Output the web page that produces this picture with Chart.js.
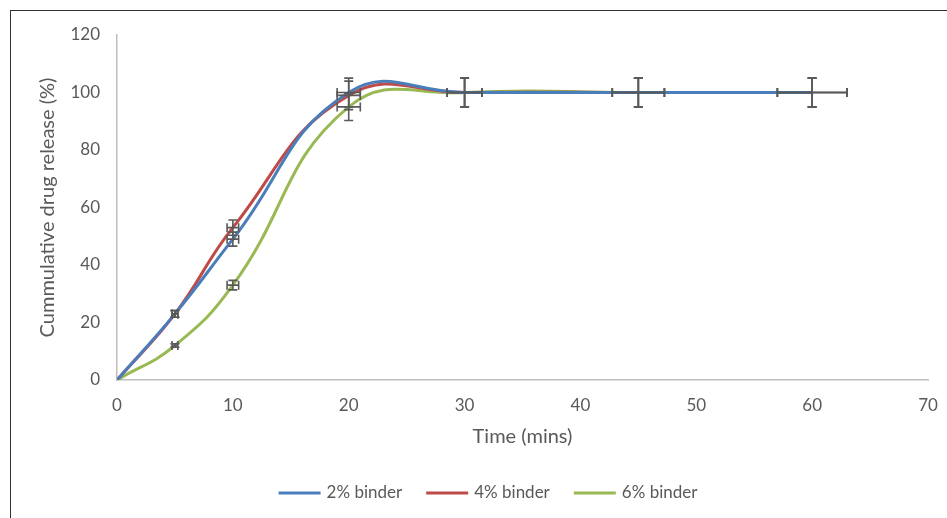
<!DOCTYPE html>
<html>
<head>
<meta charset="utf-8">
<script src="https://cdn.jsdelivr.net/npm/chart.js@4.4.1/dist/chart.umd.min.js"></script>
<style>
  html, body { margin: 0; padding: 0; background: #fff; }
  canvas { display: block; }
</style>
</head>
<body>
<canvas id="chart" width="947" height="518"></canvas>
<script>
// sampling times (mins)
var times = [0, 5, 10, 20, 30, 45, 60];

// cumulative drug release (%)
var binder2 = [0, 23, 49, 100, 100, 100, 100];
var binder4 = [0, 23, 53, 99, 100, 100, 100];
var binder6 = [0, 12, 33, 95, 100, 100, 100];

// error bars (5 % of value)
var timeErr = [0, 0.25, 0.5, 1, 1.5, 2.25, 3];
var err2 = [0, 1.15, 2.45, 5, 5, 5, 5];
var err4 = [0, 1.15, 2.65, 4.95, 5, 5, 5];
var err6 = [0, 0.6, 1.65, 4.75, 5, 5, 5];

var seriesNames = ['2% binder', '4% binder', '6% binder'];
var xTicks = [0, 10, 20, 30, 40, 50, 60, 70];
var yTicks = [0, 20, 40, 60, 80, 100, 120];

var FONT = 'Lato, "Open Sans", sans-serif';
var TEXT = '#595959';
var AXIS = '#bfbfbf';

function points(ys) {
  return times.map(function(t, i) { return { x: t, y: ys[i] }; });
}

function makeSet(label, ys, errs, color) {
  return {
    label: label,
    data: points(ys),
    yErr: errs,
    showLine: true,
    borderColor: color,
    backgroundColor: color,
    borderWidth: 3,
    pointRadius: 0,
    pointHoverRadius: 0,
    tension: 0.45
  };
}

// thin frame along the top and left edge of the picture
var framePlugin = {
  id: 'frame',
  beforeDraw: function(chart) {
    var ctx = chart.ctx;
    ctx.save();
    ctx.fillStyle = '#fff';
    ctx.fillRect(0, 0, chart.width, chart.height);
    ctx.fillStyle = '#333';
    ctx.fillRect(10, 10, chart.width - 10, 1);
    ctx.fillRect(10, 10, 1, chart.height - 10);
    ctx.restore();
  }
};

// x and y error bars with caps
var errorBarPlugin = {
  id: 'errorBars',
  afterDatasetsDraw: function(chart) {
    var ctx = chart.ctx, xs = chart.scales.x, ys = chart.scales.y;
    var cap = 4.5;
    ctx.save();
    ctx.strokeStyle = '#595959';
    ctx.lineWidth = 1.6;
    chart.data.datasets.forEach(function(ds) {
      ds.data.forEach(function(p, i) {
        var ex = timeErr[i], ey = ds.yErr[i];
        if (!ex && !ey) return;
        var px = xs.getPixelForValue(p.x), py = ys.getPixelForValue(p.y);
        var top = ys.getPixelForValue(p.y + ey), bot = ys.getPixelForValue(p.y - ey);
        var lft = xs.getPixelForValue(p.x - ex), rgt = xs.getPixelForValue(p.x + ex);
        ctx.beginPath();
        ctx.moveTo(px, top); ctx.lineTo(px, bot);
        ctx.moveTo(px - cap, top); ctx.lineTo(px + cap, top);
        ctx.moveTo(px - cap, bot); ctx.lineTo(px + cap, bot);
        ctx.moveTo(lft, py); ctx.lineTo(rgt, py);
        ctx.moveTo(lft, py - cap); ctx.lineTo(lft, py + cap);
        ctx.moveTo(rgt, py - cap); ctx.lineTo(rgt, py + cap);
        ctx.stroke();
      });
    });
    ctx.restore();
  }
};

// legend in a row under the axis title, line sample + label
var legendPlugin = {
  id: 'lineLegend',
  afterDraw: function(chart) {
    var ctx = chart.ctx;
    var lineLen = 42, gap = 6, spacing = 24, y = 493;
    ctx.save();
    ctx.font = '17px ' + FONT;
    var items = chart.data.datasets.map(function(ds) {
      return { label: ds.label, color: ds.borderColor, w: ctx.measureText(ds.label).width };
    });
    var total = items.reduce(function(s, it) { return s + lineLen + gap + it.w; }, 0) + spacing * (items.length - 1);
    var x = 488 - total / 2;
    ctx.textBaseline = 'middle';
    ctx.textAlign = 'left';
    items.forEach(function(it) {
      ctx.fillStyle = it.color;
      ctx.fillRect(x, y - 1.5, lineLen, 3);
      ctx.fillStyle = TEXT;
      ctx.fillText(it.label, x + lineLen + gap, y);
      x += lineLen + gap + it.w + spacing;
    });
    ctx.restore();
  }
};

new Chart(document.getElementById('chart'), {
  type: 'scatter',
  data: {
    datasets: [
      makeSet(seriesNames[0], binder2, err2, '#4a7ebb'),
      makeSet(seriesNames[1], binder4, err4, '#be4b48'),
      makeSet(seriesNames[2], binder6, err6, '#98b954')
    ]
  },
  options: {
    responsive: false,
    animation: false,
    events: [],
    layout: { padding: { top: 35, right: 19, bottom: 0, left: 0 } },
    plugins: {
      tooltip: { enabled: false },
      legend: { display: false }
    },
    scales: {
      x: {
        type: 'linear',
        min: 0, max: 70,
        afterBuildTicks: function(s) { s.ticks = xTicks.map(function(v) { return { value: v }; }); },
        afterFit: function(s) { s.height = 138; s.paddingLeft = 0; s.paddingRight = 0; },
        grid: { display: false, drawTicks: false },
        border: { color: AXIS, width: 1.5 },
        ticks: { color: TEXT, font: { family: FONT, size: 17 }, padding: 15, maxRotation: 0 },
        title: { display: true, text: 'Time (mins)', color: TEXT, font: { family: FONT, size: 20 }, padding: { top: 0, bottom: 69 } }
      },
      y: {
        type: 'linear',
        min: 0, max: 120,
        afterBuildTicks: function(s) { s.ticks = yTicks.map(function(v) { return { value: v }; }); },
        afterFit: function(s) { s.width = 117; },
        grid: { display: false, drawTicks: false },
        border: { color: AXIS, width: 1.5 },
        ticks: { color: TEXT, font: { family: FONT, size: 17 }, padding: 17 },
        title: { display: true, text: 'Cummulative drug release (%)', color: TEXT, font: { family: FONT, size: 20 }, padding: { top: 36, bottom: 0 } }
      }
    }
  },
  plugins: [framePlugin, errorBarPlugin, legendPlugin]
});
</script>
</body>
</html>
